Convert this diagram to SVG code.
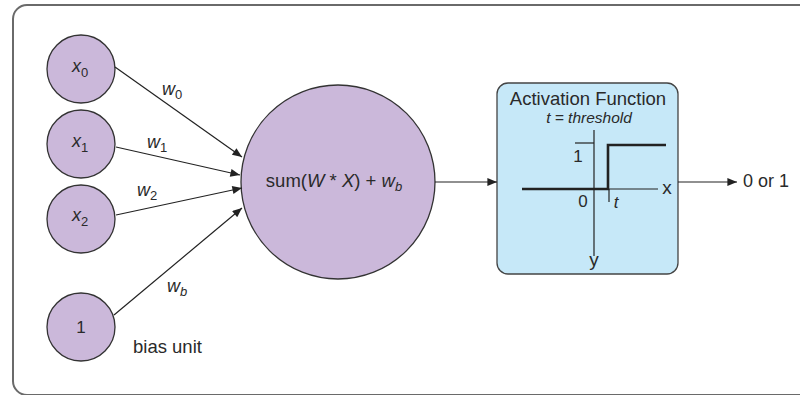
<svg xmlns="http://www.w3.org/2000/svg" width="800" height="395" viewBox="0 0 800 395">
<defs>
<marker id="arr" viewBox="0 0 12 10" refX="12" refY="5" markerWidth="12" markerHeight="8" markerUnits="userSpaceOnUse" orient="auto">
<path d="M0,0 L12,5 L0,10 Z" fill="#222"/>
</marker>
<style>
text{font-family:"Liberation Sans",Arial,sans-serif;fill:#2a2a2a}
.node{fill:#cbb8da;stroke:#333;stroke-width:1.3}
.conn{stroke:#222;stroke-width:1.2;fill:none;marker-end:url(#arr)}
.lbl{font-size:18px;font-style:italic}
.sub{font-size:13px}
.axis{stroke:#222;stroke-width:1.2;fill:none}
.step{stroke:#222;stroke-width:2.6;fill:none}
</style>
</defs>
<rect x="13" y="5" width="820" height="390" rx="14" fill="#fff" stroke="#6a6a6a" stroke-width="2"/>

<g id="x0">
<circle class="node" cx="81" cy="69" r="34"/>
<text class="lbl" x="80" y="72" text-anchor="middle">x<tspan class="sub" font-style="normal" dy="5">0</tspan></text>
</g>
<g id="x1">
<circle class="node" cx="81" cy="144" r="34"/>
<text class="lbl" x="80" y="147" text-anchor="middle">x<tspan class="sub" font-style="normal" dy="5">1</tspan></text>
</g>
<g id="x2">
<circle class="node" cx="81" cy="219" r="34"/>
<text class="lbl" x="80" y="221" text-anchor="middle">x<tspan class="sub" font-style="normal" dy="5">2</tspan></text>
</g>
<g id="bias">
<circle class="node" cx="81" cy="327" r="34"/>
<text x="81" y="333" font-size="17" text-anchor="middle">1</text>
<text x="133" y="353" font-size="18.5">bias unit</text>
</g>
<g id="sum">
<circle class="node" cx="338" cy="182" r="97"/>
<text x="334" y="187" font-size="18.5" text-anchor="middle">sum(<tspan font-style="italic">W</tspan> * <tspan font-style="italic">X</tspan>) + <tspan font-style="italic">w</tspan><tspan font-size="13" font-style="italic" dy="4">b</tspan></text>
</g>
<g id="activation">
<rect x="497" y="83" width="181" height="191" rx="11" fill="#c6e8f8" stroke="#444" stroke-width="1.3"/>
<text x="588" y="105" font-size="18.5" text-anchor="middle">Activation Function</text>
<text x="589" y="123" font-size="15.5" font-style="italic" text-anchor="middle">t = threshold</text>
<line class="axis" x1="594" y1="130" x2="594" y2="256"/>
<line class="axis" x1="522" y1="189" x2="658" y2="189"/>
<line class="axis" x1="575" y1="143" x2="594" y2="143"/>
<line class="axis" x1="609" y1="189" x2="609" y2="202"/>
<path class="step" d="M522,189 H608 V145 H666"/>
<text x="578" y="162" font-size="17" text-anchor="middle">1</text>
<text x="583" y="207" font-size="17" text-anchor="middle">0</text>
<text x="616" y="208" font-size="17" font-style="italic" text-anchor="middle">t</text>
<text x="667" y="194" font-size="19" text-anchor="middle">x</text>
<text x="594" y="266" font-size="19" text-anchor="middle">y</text>
</g>
<g id="output">
<text x="743" y="187" font-size="18">0 or 1</text>
</g>
<g id="connectors">
<line class="conn" x1="115" y1="67" x2="242" y2="157"/>
<line class="conn" x1="116" y1="147" x2="240" y2="175"/>
<line class="conn" x1="116" y1="215" x2="242" y2="188"/>
<line class="conn" x1="114" y1="315" x2="242" y2="208"/>
<line class="conn" x1="435" y1="182" x2="497" y2="182"/>
<line class="conn" x1="678" y1="182" x2="737" y2="182"/>
<text class="lbl" x="162" y="95">w<tspan class="sub" font-style="normal" dy="4">0</tspan></text>
<text class="lbl" x="147" y="148">w<tspan class="sub" font-style="normal" dy="4">1</tspan></text>
<text class="lbl" x="137" y="196">w<tspan class="sub" font-style="normal" dy="4">2</tspan></text>
<text class="lbl" x="167" y="292">w<tspan class="sub" dy="4">b</tspan></text>
</g>
</svg>
